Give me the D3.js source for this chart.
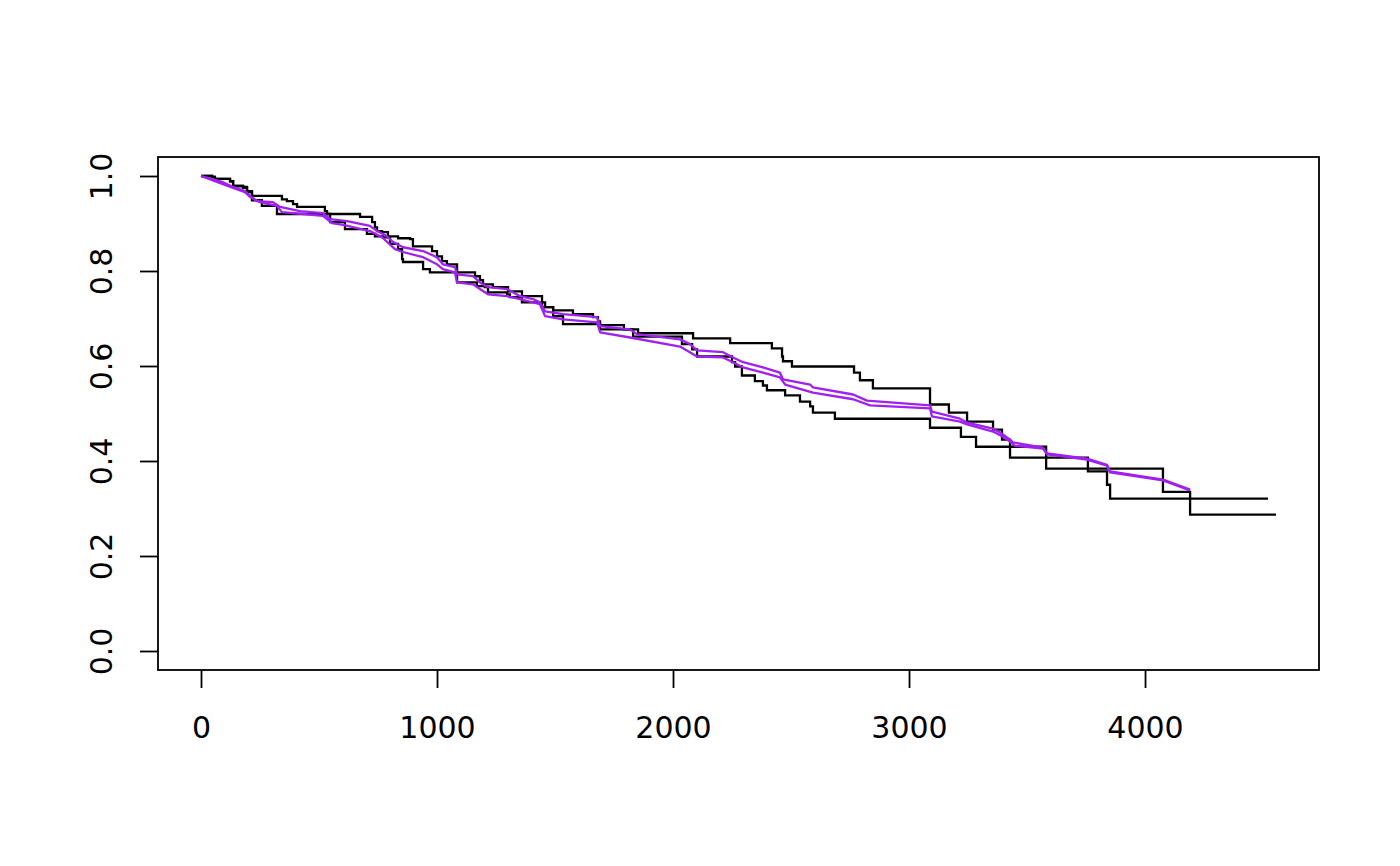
<!DOCTYPE html>
<html>
<head>
<meta charset="utf-8">
<script src="https://cdn.jsdelivr.net/npm/d3@7"></script>
<style>
  body { margin: 0; background: #fff; }
  svg text { font-family: "DejaVu Sans", sans-serif; }
</style>
</head>
<body>
<div id="chart"></div>
<script>
// Kaplan-Meier step curves (time, survival)
const kmUpperTime = [0, 47, 59, 123, 136, 178, 195, 216, 343, 364, 390, 407, 525, 534, 674, 725, 737, 746, 767, 792,
  835, 886, 898, 979, 1000, 1021, 1042, 1085, 1161, 1182, 1195, 1237, 1301, 1360, 1445, 1458, 1492, 1576, 1661, 1682,
  1691, 1792, 1852, 2085, 2242, 2419, 2462, 2466, 2504, 2767, 2792, 2847, 3089, 3169, 3246, 3356, 3394, 3428, 3581, 3758,
  3839, 3852, 4521];
const kmUpperSurv = [1, 0.998, 0.994, 0.989, 0.979, 0.977, 0.968, 0.958, 0.951, 0.947, 0.941, 0.935, 0.926, 0.920, 0.914, 0.903, 0.892, 0.884, 0.882, 0.873,
  0.869, 0.867, 0.852, 0.842, 0.831, 0.821, 0.814, 0.797, 0.789, 0.781, 0.772, 0.766, 0.757, 0.747, 0.734, 0.724, 0.717, 0.709, 0.703, 0.694,
  0.686, 0.677, 0.669, 0.658, 0.648, 0.637, 0.620, 0.610, 0.599, 0.586, 0.570, 0.553, 0.519, 0.502, 0.483, 0.466, 0.445, 0.430, 0.407, 0.378,
  0.350, 0.321, 0.321];

const kmLowerTime = [0, 47, 59, 123, 136, 178, 195, 216, 258, 322, 547, 610, 703, 737, 771, 801,
  835, 852, 856, 941, 970, 1085, 1169, 1203, 1216, 1297, 1309, 1360, 1445, 1492, 1534, 1691,
  1831, 2038, 2081, 2102, 2250, 2263, 2292, 2347, 2381, 2398, 2475, 2538, 2581, 2593, 2686, 3089,
  3220, 3284, 3428, 3581, 4076, 4191, 4555];
const kmLowerSurv = [1, 0.998, 0.994, 0.989, 0.979, 0.975, 0.966, 0.949, 0.937, 0.920, 0.903, 0.888, 0.878, 0.873, 0.871, 0.857,
  0.846, 0.825, 0.819, 0.804, 0.797, 0.776, 0.768, 0.766, 0.755, 0.751, 0.745, 0.734, 0.724, 0.705, 0.688, 0.677,
  0.662, 0.646, 0.635, 0.620, 0.608, 0.599, 0.580, 0.568, 0.559, 0.549, 0.538, 0.525, 0.515, 0.502, 0.489, 0.470,
  0.451, 0.430, 0.407, 0.384, 0.335, 0.287, 0.287];

// model predicted curves (purple)
const predATime = [0, 59, 93, 136, 186, 208, 237, 305, 335, 419, 517, 547, 619, 716, 746, 788,
  814, 856, 941, 1000, 1025, 1076, 1085, 1153, 1182, 1216, 1297, 1352, 1407, 1436, 1458, 1534,
  1678, 1691, 1818, 1847, 2030, 2072, 2102, 2212, 2254, 2297, 2381, 2453, 2466, 2581, 2593, 2763,
  2822, 3089, 3097, 3216, 3246, 3356, 3386, 3428, 3441, 3568, 3585, 3754, 3839, 3852, 4076, 4191];
const predASurv = [1, 0.992, 0.987, 0.977, 0.968, 0.958, 0.947, 0.945, 0.935, 0.926, 0.922, 0.909, 0.905, 0.895, 0.884, 0.873,
  0.861, 0.850, 0.842, 0.829, 0.814, 0.808, 0.793, 0.789, 0.776, 0.766, 0.762, 0.747, 0.741, 0.734, 0.715, 0.709,
  0.703, 0.684, 0.677, 0.667, 0.656, 0.646, 0.633, 0.629, 0.618, 0.608, 0.597, 0.586, 0.572, 0.561, 0.555, 0.540,
  0.527, 0.517, 0.504, 0.489, 0.481, 0.468, 0.460, 0.445, 0.439, 0.428, 0.416, 0.405, 0.392, 0.378, 0.361, 0.340];

const predBTime = [0, 59, 136, 186, 208, 250, 322, 343, 432, 517, 555, 602, 716, 767, 822, 856,
  941, 1000, 1025, 1076, 1085, 1153, 1182, 1216, 1297, 1352, 1436, 1458, 1534, 1678, 1691, 1818,
  2030, 2102, 2212, 2254, 2297, 2381, 2453, 2475, 2593, 2763, 2835, 3089, 3097, 3216, 3246, 3356,
  3398, 3428, 3449, 3568, 3585, 3754, 3839, 3852, 4076, 4191];
const predBSurv = [1, 0.989, 0.975, 0.966, 0.956, 0.945, 0.937, 0.924, 0.920, 0.916, 0.901, 0.897, 0.884, 0.871, 0.846, 0.840,
  0.829, 0.814, 0.804, 0.797, 0.776, 0.772, 0.762, 0.751, 0.747, 0.741, 0.730, 0.705, 0.698, 0.692, 0.671, 0.660,
  0.641, 0.620, 0.618, 0.608, 0.597, 0.586, 0.576, 0.561, 0.544, 0.530, 0.517, 0.511, 0.494, 0.483, 0.477, 0.462,
  0.451, 0.441, 0.432, 0.426, 0.414, 0.403, 0.390, 0.376, 0.359, 0.338];

const xTicks = [0, 1000, 2000, 3000, 4000];
const yTicks = [0, 0.2, 0.4, 0.6, 0.8, 1.0];

const W = 1400, H = 866;
const margin = { top: 157, right: 81, bottom: 196, left: 158 };
const width = W - margin.left - margin.right;
const height = H - margin.top - margin.bottom;

const toPoints = (t, s) => t.map((d, i) => ({ t: d, s: s[i] }));
const kmUpper = toPoints(kmUpperTime, kmUpperSurv);
const kmLower = toPoints(kmLowerTime, kmLowerSurv);
const predA = toPoints(predATime, predASurv);
const predB = toPoints(predBTime, predBSurv);

// R-style 4% padding on both axes
const xMax = d3.max(kmUpperTime.concat(kmLowerTime));
const xPad = xMax * 0.04;

const svg = d3.select('#chart').append('svg')
  .attr('width', W)
  .attr('height', H)
  .append('g')
  .attr('transform', `translate(${margin.left},${margin.top})`);

const x = d3.scaleLinear()
  .domain([-xPad, xMax + xPad])
  .range([0, width]);

const y = d3.scaleLinear()
  .domain([-0.04, 1.04])
  .range([height, 0]);

const xAxis = svg.append('g')
  .attr('transform', `translate(0,${height})`)
  .call(d3.axisBottom(x).tickValues(xTicks).tickSize(18).tickPadding(0).tickFormat(d3.format('d')));
xAxis.select('.domain').remove();
xAxis.selectAll('line').attr('stroke', '#000').attr('stroke-width', 1.8);
xAxis.selectAll('text')
  .attr('y', 68).attr('dy', 0)
  .attr('fill', '#000')
  .style('font-size', '30px');

const yAxis = svg.append('g')
  .call(d3.axisLeft(y).tickValues(yTicks).tickSize(18).tickFormat(d3.format('.1f')));
yAxis.select('.domain').remove();
yAxis.selectAll('line').attr('stroke', '#000').attr('stroke-width', 1.8);
yAxis.selectAll('text')
  .attr('x', 0).attr('y', 0).attr('dy', 0)
  .attr('transform', 'translate(-46,0) rotate(-90)')
  .attr('fill', '#000')
  .style('text-anchor', 'middle')
  .style('font-size', '30px');

svg.append('rect')
  .attr('x', 0).attr('y', 0)
  .attr('width', width).attr('height', height)
  .attr('fill', 'none')
  .attr('stroke', '#000')
  .attr('stroke-width', 1.8);

const stepLine = d3.line()
  .x(d => x(d.t))
  .y(d => y(d.s))
  .curve(d3.curveStepAfter);

const smoothLine = d3.line()
  .x(d => x(d.t))
  .y(d => y(d.s));

[kmUpper, kmLower].forEach(data => {
  svg.append('path')
    .datum(data)
    .attr('fill', 'none')
    .attr('stroke', '#000')
    .attr('stroke-width', 2.3)
    .attr('d', stepLine);
});

[predA, predB].forEach(data => {
  svg.append('path')
    .datum(data)
    .attr('fill', 'none')
    .attr('stroke', '#A020F0')
    .attr('stroke-width', 2.3)
    .attr('stroke-linejoin', 'round')
    .attr('d', smoothLine);
});
</script>
</body>
</html>
